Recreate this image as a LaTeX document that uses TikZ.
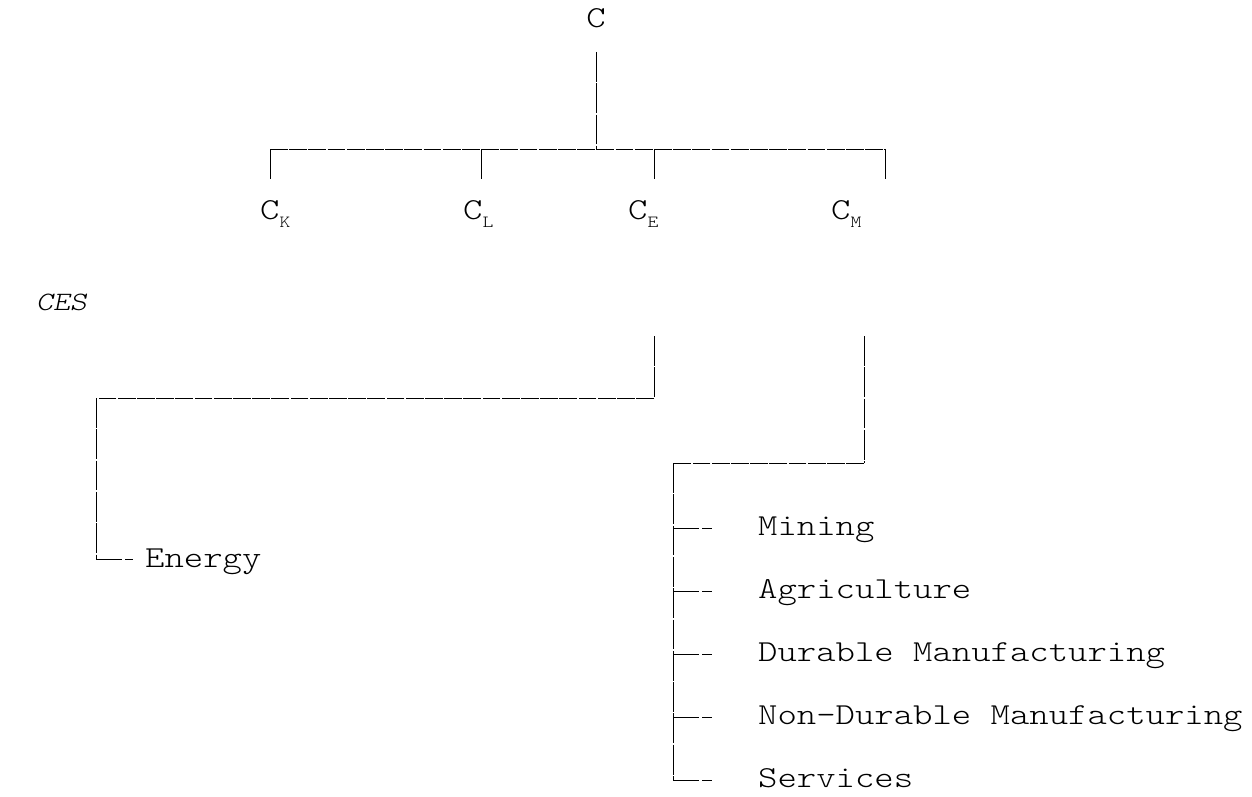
\documentclass[tikz,border=0pt]{standalone}
\usepackage{fontspec}
\newfontfamily\cour{lmmonolt10-regular.otf}[ItalicFont=lmmonolt10-oblique.otf, FakeStretch=1.21]
\newcommand{\bigtt}{\cour\fontsize{30.5}{30.5}\selectfont}
\newcommand{\subtt}[1]{\raisebox{-8pt}{\cour\fontsize{17}{17}\selectfont #1}}
\tikzset{
  lbl/.style={inner sep=0pt, anchor=base west, font=\bigtt},
  hline/.style={line width=1pt, dash pattern=on 17.8pt off 1.4pt},
  vline/.style={line width=1pt, dash pattern=on 29.8pt off 1.5pt},
  stub/.style={line width=1pt, dash pattern=on 26pt off 3pt on 10pt off 20pt},
}
\begin{document}
\begin{tikzpicture}[x=1pt,y=-1pt]
\useasboundingbox (0,0) rectangle (1252,797);
% top node
\node[inner sep=0pt, anchor=base, font=\bigtt] (C) at (596,28) {C};
\node[lbl] (CK) at (260,219) {C\subtt{K}};
\node[lbl] (CL) at (463,219) {C\subtt{L}};
\node[lbl] (CE) at (628,219) {C\subtt{E}};
\node[lbl] (CM) at (831,219) {C\subtt{M}};
\node[inner sep=0pt, anchor=base west, font={\cour\itshape\fontsize{26.5}{26.5}\selectfont}] (ces) at (36,310) {CES};
\node[lbl] (energy) at (145,567) {Energy};
\node[lbl] (mining) at (758,535) {Mining};
\node[lbl] (agri) at (758,598) {Agriculture};
\node[lbl] (dur) at (758,661) {Durable Manufacturing};
\node[lbl] (ndur) at (758,724) {Non-Durable Manufacturing};
\node[lbl] (serv) at (758,787) {Services};
% coordinates
\coordinate (ctop) at (596,52);
\coordinate (cbar) at (596,149);
\coordinate (barL) at (270,149);
\coordinate (barR) at (885,149);
\coordinate (tK) at (270,180);
\coordinate (tLa) at (481,149); \coordinate (tLb) at (481,180);
\coordinate (tEa) at (654,149); \coordinate (tEb) at (654,180);
\coordinate (tM) at (885,180);
% top tree
\draw[vline] (ctop) -- (cbar);
\draw[hline] (barL) -- (barR);
\draw[vline] (barL) -- (tK);
\draw[vline] (tLa) -- (tLb);
\draw[vline] (tEa) -- (tEb);
\draw[vline] (barR) -- (tM);
% energy branch
\coordinate (eTop) at (654,336);
\coordinate (eCorner) at (654,398);
\coordinate (eLeft) at (96,398);
\coordinate (eBot) at (96,559);
\draw[vline] (eTop) -- (eCorner);
\draw[hline] (eCorner) -- (eLeft);
\draw[vline] (eLeft) -- (eBot);
\draw[stub] (eBot) -- ++(37,0);
% materials branch
\coordinate (mTop) at (864,336);
\coordinate (mCorner) at (864,463);
\coordinate (mLeft) at (673,463);
\coordinate (mBot) at (673,780);
\draw[vline] (mTop) -- (mCorner);
\draw[hline] (mCorner) -- (mLeft);
\draw[vline] (mLeft) -- (mBot);
\foreach \yy in {528,591,654,717,780}{
  \draw[stub] (673,\yy) -- (712,\yy);
}
\end{tikzpicture}
\end{document}
